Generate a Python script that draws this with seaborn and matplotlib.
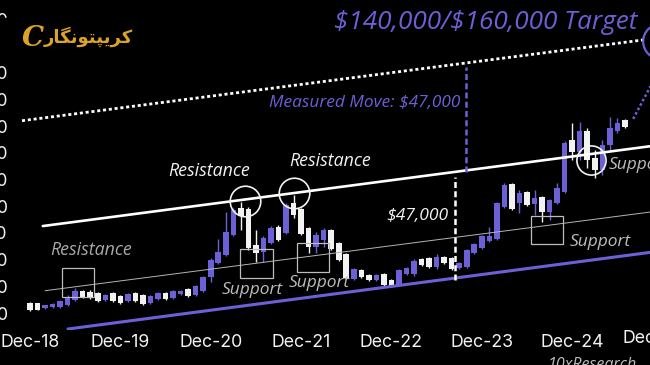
import numpy as np
import pandas as pd
import seaborn as sns
import matplotlib.pyplot as plt
from matplotlib.patches import Rectangle

# monthly candles Dec-18 .. Jul-25, prices in $ thousands
opens = [3.75, 3.75, 1.9, 2.25, 2.25, 3.0, 4.9, 8.25, 7.9, 7.5,
         4.9, 7.5, 6.4, 4.5, 7.5, 6.75, 3.75, 5.25, 7.5, 5.6,
         7.1, 9.0, 6.75, 8.25, 13.5, 18.75, 21.75, 29.25, 39.4, 39.0,
         25.5, 22.9, 26.25, 32.25, 30.0, 41.25, 39.0, 31.9, 24.75, 27.4,
         31.1, 26.25, 22.1, 12.75, 16.1, 14.25, 12.4, 14.6, 12.4, 10.5,
         14.6, 14.6, 20.25, 20.6, 17.25, 21.0, 20.6, 16.9, 17.25, 22.5,
         24.4, 27.0, 27.75, 39.75, 48.4, 41.25, 45.4, 40.9, 43.5, 37.9,
         41.25, 45.4, 64.9, 60.4, 68.25, 58.1, 53.6, 63.0, 68.25, 72.4]
closes = [1.1, 1.1, 3.0, 3.4, 4.5, 6.0, 8.25, 6.0, 5.6, 4.5,
          6.75, 4.5, 3.75, 7.1, 4.5, 3.4, 6.4, 7.5, 5.25, 8.25,
          8.25, 6.4, 10.1, 13.5, 19.9, 22.9, 30.4, 38.6, 36.4, 24.4,
          22.5, 28.1, 31.9, 27.4, 40.5, 36.75, 29.6, 24.75, 29.25, 31.1,
          24.0, 19.9, 13.1, 16.5, 13.5, 12.4, 14.25, 10.5, 10.1, 16.1,
          16.9, 19.5, 18.0, 17.25, 21.0, 18.75, 16.5, 18.75, 23.6, 25.9,
          28.9, 28.9, 41.25, 48.0, 39.0, 45.0, 40.5, 43.1, 37.9, 42.4,
          46.9, 63.75, 60.4, 68.25, 57.4, 53.6, 63.0, 69.4, 71.25, 69.75]
highs = [4.1, 3.75, 3.0, 3.75, 4.9, 6.75, 9.4, 8.6, 8.6, 7.9,
         7.1, 7.9, 6.75, 7.5, 7.9, 7.1, 6.75, 7.9, 7.9, 8.6,
         8.6, 9.4, 10.5, 13.9, 20.6, 27.75, 37.9, 39.4, 41.6, 39.75,
         31.1, 28.9, 32.6, 33.0, 41.25, 44.25, 39.4, 32.25, 30.4, 31.9,
         31.5, 26.6, 22.5, 16.9, 16.5, 14.6, 14.6, 15.0, 12.75, 16.5,
         17.25, 20.25, 20.6, 21.0, 22.1, 21.4, 21.0, 19.1, 24.0, 26.25,
         29.25, 32.25, 41.6, 48.75, 48.75, 46.1, 45.75, 46.1, 43.9, 42.75,
         48.75, 64.5, 71.25, 71.6, 69.4, 61.1, 64.9, 73.5, 73.1, 72.75]
lows = [0.75, 1.1, 1.5, 1.9, 1.9, 2.6, 4.5, 5.6, 5.25, 4.1,
        4.5, 4.1, 3.4, 4.1, 4.1, 3.0, 3.4, 4.9, 4.9, 5.25,
        6.75, 6.0, 6.4, 7.9, 11.6, 18.4, 21.4, 28.9, 31.1, 23.6,
        19.1, 19.1, 25.9, 27.0, 29.6, 35.6, 29.25, 22.5, 22.5, 24.75,
        23.6, 19.5, 12.75, 12.4, 13.1, 12.0, 12.0, 10.1, 9.75, 10.1,
        14.25, 13.9, 17.6, 16.9, 16.5, 18.4, 16.1, 16.5, 16.9, 22.1,
        24.0, 26.6, 27.4, 39.4, 38.6, 37.5, 40.1, 36.75, 34.1, 34.9,
        40.9, 45.0, 57.4, 57.4, 54.4, 50.6, 51.75, 61.1, 67.5, 69.4]

x_labels = ["Dec-18", "Dec-19", "Dec-20", "Dec-21", "Dec-22", "Dec-23", "Dec-24", "Dec-25"]
y_ticks = [0, 10, 20, 30, 40, 50, 60, 70, 80, 90, 100, 110]

# channel lines: (month, $k) end points
resistance = ([1.7, 86.3], [32.6, 64.0])
upper_dotted = ([-1.06, 81.7], [72.1, 102.5])
lower_support = ([5.05, 86.3], [-6.0, 24.2])
mid_line = ([2.0, 86.3], [8.36, 39.3])

purple = "#6c60d6"
white = "#f2f2f2"
gold = "#dca426"

sns.set_theme(style="dark", rc={
    "figure.facecolor": "black", "axes.facecolor": "black",
    "axes.edgecolor": "black", "text.color": white,
    "xtick.color": white, "ytick.color": white,
})
plt.rcParams["font.family"] = ["Inter", "DejaVu Sans"]

df = pd.DataFrame({"open": opens, "close": closes, "high": highs, "low": lows})
df["month"] = np.arange(len(df))
df["color"] = np.where(df["close"] > df["open"], purple, white)

fig = plt.figure(figsize=(6.5, 3.65), dpi=100)
ax = fig.add_axes([14 / 650, 35 / 365, 666 / 650, 330 / 365])
ax.set_xlim(-2.125, 86.32)
ax.set_ylim(-6.375, 117.375)

# candles
ax.vlines(df["month"], df["low"], df["high"], colors=df["color"], lw=1, zorder=2)
ax.bar(df["month"], (df["close"] - df["open"]).abs(),
       bottom=df[["open", "close"]].min(axis=1),
       width=0.74, color=df["color"], lw=0, zorder=2.5)

# channel
ax.plot(*resistance, color="white", lw=1.9, zorder=3)
ax.plot(*upper_dotted, color="white", lw=2.0, ls=(0, (1.1, 1.0)), dash_capstyle="butt", zorder=3)
ax.plot(*lower_support, color=purple, lw=2.2, zorder=3)
ax.plot(*mid_line, color="#b5b5b5", lw=0.7, zorder=3)

# measured move
ax.plot([56.4, 56.4], [12.2, 51.0], color="white", lw=1.8, ls=(0, (2.4, 1.3)), zorder=3)
ax.plot([57.9, 57.9], [52.9, 92.3], color=purple, lw=1.8, ls=(0, (2.4, 1.3)), zorder=3)
ax.plot([80.1, 82.4], [72.8, 85.0], color=purple, lw=1.8, ls=(0, (1.0, 1.0)), dash_capstyle="butt", zorder=3)

# circles
ax.plot([28.5, 35.06], [42.0, 45.0], "o", ms=22, mfc="none", mec=white, mew=1.2, zorder=4)
ax.plot([74.5], [57.4], "o", ms=21, mfc="none", mec=white, mew=1.2, zorder=4)
ax.plot([83.7], [102.0], "o", ms=25, mfc="none", mec=purple, mew=1.6, zorder=4)

# support / resistance boxes
for (m0, m1, k0, k1) in [(4.25, 8.5, 6.0, 16.9), (27.9, 32.3, 13.1, 24.0),
                         (35.5, 39.7, 15.4, 26.25), (66.5, 70.8, 25.9, 36.4)]:
    ax.add_patch(Rectangle((m0, k0), m1 - m0, k1 - k0, fill=False,
                           ec="#bdbdbd", lw=0.9, zorder=4))

ital = dict(family=["Open Sans", "DejaVu Sans"], style="italic", va="center", zorder=5)
ax.text(2.66, 23.6, "Resistance", color="#a9a9a9", fontsize=12.8, **ital)
ax.text(18.3, 53.4, "Resistance", color=white, fontsize=12.8, **ital)
ax.text(34.4, 57.0, "Resistance", color=white, fontsize=12.8, **ital)
ax.text(25.5, 8.8, "Support", color="#bdbdbd", fontsize=12.5, **ital)
ax.text(34.4, 11.1, "Support", color="#bdbdbd", fontsize=12.5, **ital)
ax.text(71.7, 26.8, "Support", color="#bdbdbd", fontsize=12.5, **ital)
ax.text(76.9, 55.5, "Support", color="#bdbdbd", fontsize=12.5, **ital)
ax.text(55.6, 36.4, r"\$47,000", color=white, fontsize=12.6, ha="right", **ital)
ax.text(57.2, 78.75, r"Measured Move: \$47,000", color=purple, fontsize=12.4, ha="right", **ital)
ax.text(80.6, 109.1, r"\$140,000/\$160,000 Target", color=purple, fontsize=18.8, ha="right", **ital)

# axes ticks
ax.set_xticks(np.arange(0, 12 * len(x_labels), 12)[:-1])
ax.set_xticklabels(x_labels[:-1])
ax.text(82.9, -6.375, x_labels[-1], ha="center", va="top", fontsize=12.8,
        color=white, transform=ax.transData)
ax.set_yticks(y_ticks)
ax.set_yticklabels([f"{v * 1000:,.0f}" for v in y_ticks])
ax.tick_params(axis="x", length=0, pad=3, labelsize=12.8)
ax.tick_params(axis="y", length=0, pad=4.5, labelsize=12.8)
ax.grid(False)
for s in ax.spines.values():
    s.set_visible(False)

fig.text(548 / 650, 1 - 357 / 365, "10xResearch", color="#bdbdbd", fontsize=11.5,
         family=["Open Sans", "DejaVu Sans"], style="italic", va="top")

# logo (covers the top tick label)
fig.patches.append(Rectangle((0, 1 - 60 / 365), 140 / 650, 42 / 365, transform=fig.transFigure,
                             color="black", zorder=10))
fig.text(22 / 650, 1 - 38 / 365, "C", color=gold, fontsize=20, family="DejaVu Serif",
         weight="bold", style="italic", va="center", zorder=11)
fig.text(44 / 650, 1 - 37 / 365, "\uFEAD\uFE8E\uFB95\uFEE7\uFEEE\uFE98\uFB59\uFBFE\uFEAE\uFB90",
         color=gold, fontsize=13, family="DejaVu Sans", weight="bold", va="center", zorder=11)

fig.savefig("out.png", dpi=100, facecolor="black")
